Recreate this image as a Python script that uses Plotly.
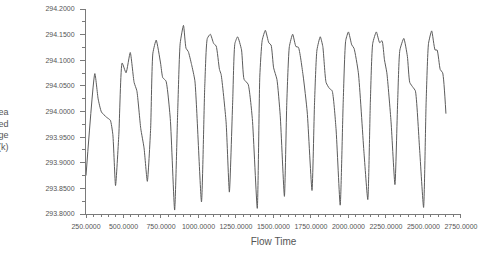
import plotly.graph_objects as go

flow_time = [250, 309, 331, 353, 386, 412, 429, 447, 469, 491, 517, 545, 571, 589, 615, 637, 659,
             681, 696, 718, 747, 762, 783, 812, 841, 862, 878, 900, 917, 932, 954, 976, 1020,
             1042, 1059, 1079, 1101, 1118, 1140, 1151, 1184, 1206, 1228, 1243, 1261, 1287, 1304,
             1331, 1359, 1392, 1409, 1425, 1446, 1469, 1484, 1501, 1523, 1545, 1573, 1589, 1606,
             1628, 1650, 1666, 1698, 1725, 1757, 1774, 1790, 1812, 1829, 1851, 1873, 1891, 1917,
             1945, 1965, 1982, 2000, 2022, 2037, 2066, 2103, 2129, 2146, 2162, 2186, 2208, 2224,
             2240, 2256, 2284, 2310, 2328, 2343, 2369, 2393, 2409, 2431, 2446, 2474, 2501, 2518,
             2534, 2555, 2578, 2591, 2612, 2628, 2650]
temperature = [293.875, 294.074, 294.0245, 293.999, 293.989, 293.983, 293.955, 293.8555, 293.955,
               294.0947, 294.0756, 294.1151, 294.0565, 294.0405, 293.967, 293.929, 293.8637,
               293.967, 294.1139, 294.1393, 294.0947, 294.066, 294.0597, 293.986, 293.8077,
               294.0054, 294.133, 294.168, 294.1234, 294.117, 294.0915, 294.06, 293.8236,
               294.05, 294.1426, 294.1508, 294.133, 294.1278, 294.082, 294.0723, 293.98, 293.8427,
               294.0182, 294.133, 294.1458, 294.1202, 294.0628, 294.0532, 293.9862, 293.811,
               294.0693, 294.139, 294.1585, 294.134, 294.1298, 294.0852, 294.0628, 293.9927,
               293.8344, 294.018, 294.1267, 294.1508, 294.1267, 294.1254, 294.0693, 293.999,
               293.8459, 294.018, 294.12, 294.1458, 294.127, 294.0565, 294.045, 294.0406, 293.967,
               293.8172, 294.018, 294.139, 294.1553, 294.13, 294.1234, 294.0756, 293.9225,
               293.8281, 294.018, 294.133, 294.1553, 294.1343, 294.138, 294.101, 294.0756, 293.98,
               293.8574, 294.018, 294.12, 294.1426, 294.1076, 294.0565, 294.0469, 294.0406,
               293.9288, 293.8128, 294.018, 294.133, 294.1573, 294.12, 294.12, 294.082, 294.0756,
               293.9958]

x_tickvals = [250, 500, 750, 1000, 1250, 1500, 1750, 2000, 2250, 2500, 2750]
y_tickvals = [293.80, 293.85, 293.90, 293.95, 294.00, 294.05, 294.10, 294.15, 294.20]

x_title = "Flow Time"
y_title_lines = ["Area", "Weighted", "Average", "Temperature (k)"]

W, H = 483, 257
L, R, T, B = 86, 16, 5, 43

fig = go.Figure()
fig.add_trace(go.Scatter(
    x=flow_time, y=temperature, mode="lines",
    line=dict(color="#5c5c5c", width=1, shape="spline", smoothing=0.5),
    hoverinfo="skip", showlegend=False,
))

tick_font = dict(family="Liberation Sans Narrow, Arial Narrow, sans-serif", size=7, color="#555555")
axis_color = "#7a7a7a"

fig.update_layout(
    width=W, height=H,
    margin=dict(l=L, r=R, t=T, b=B, pad=0),
    paper_bgcolor="white", plot_bgcolor="white",
    showlegend=False,
    xaxis=dict(
        range=[250, 2750.5], tickmode="array", tickvals=x_tickvals,
        ticktext=[f"{v:.4f}" for v in x_tickvals],
        showgrid=False, zeroline=False,
        showline=True, linecolor=axis_color, linewidth=1,
        ticks="outside", ticklen=3, tickcolor=axis_color, tickwidth=1,
        tickfont=tick_font, ticklabelstandoff=3, ticklabeloverflow="allow",
        minor=dict(tickmode="linear", tick0=250, dtick=50, ticks="outside", ticklen=2,
                   tickcolor=axis_color, showgrid=False),
        title=dict(text=x_title, standoff=8,
                   font=dict(family="Liberation Sans Narrow, Arial Narrow, sans-serif", size=10, color="#555555")),
    ),
    yaxis=dict(
        range=[293.8, 294.2], tickmode="array", tickvals=y_tickvals,
        ticktext=[f"{v:.4f}" for v in y_tickvals],
        showgrid=False, zeroline=False,
        showline=True, linecolor=axis_color, linewidth=1,
        ticks="outside", ticklen=5, tickcolor=axis_color, tickwidth=1,
        tickfont=tick_font, ticklabelstandoff=4,
        minor=dict(tickmode="linear", tick0=293.8, dtick=0.025, ticks="outside", ticklen=3,
                   tickcolor=axis_color, showgrid=False),
    ),
)

plot_w = W - L - R
plot_h = H - T - B
fig.add_annotation(
    text="<br>".join(y_title_lines),
    xref="paper", yref="paper",
    x=(10 - L) / plot_w, y=(H - B - 127.5) / plot_h,
    xanchor="right", yanchor="middle", align="right", showarrow=False,
    font=dict(family="Liberation Sans, Arial, sans-serif", size=9, color="#555555"),
)

fig.write_html("out.html")
